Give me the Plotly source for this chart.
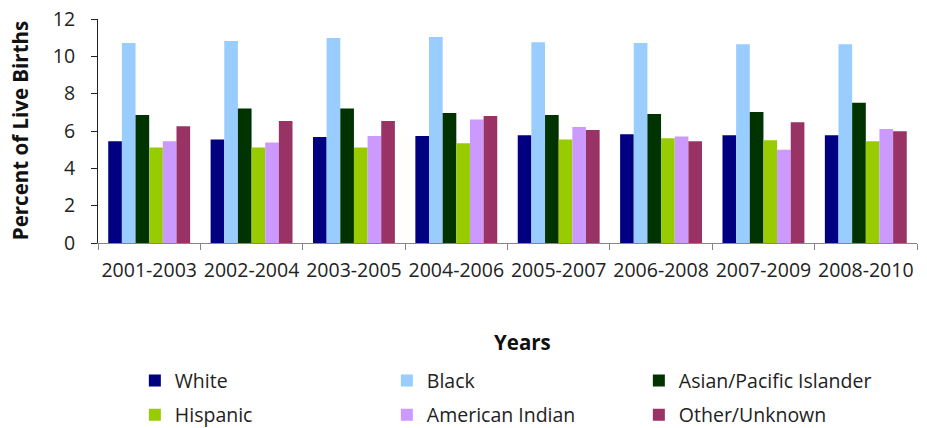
import plotly.graph_objects as go

years = ["2001-2003", "2002-2004", "2003-2005", "2004-2006",
         "2005-2007", "2006-2008", "2007-2009", "2008-2010"]

white = [5.45, 5.55, 5.68, 5.73, 5.77, 5.82, 5.77, 5.77]
black = [10.71, 10.82, 10.98, 11.03, 10.76, 10.71, 10.65, 10.65]
asian = [6.86, 7.20, 7.20, 6.97, 6.86, 6.91, 7.02, 7.52]
hispanic = [5.12, 5.12, 5.12, 5.34, 5.55, 5.61, 5.50, 5.45]
amindian = [5.45, 5.39, 5.73, 6.61, 6.21, 5.71, 4.99, 6.11]
other = [6.25, 6.54, 6.54, 6.80, 6.05, 5.45, 6.47, 5.98]

series = [
    ("White", white, "#000080", "legend"),
    ("Black", black, "#99CCFF", "legend"),
    ("Asian/Pacific Islander", asian, "#003300", "legend"),
    ("Hispanic", hispanic, "#99CC00", "legend2"),
    ("American Indian", amindian, "#CC99FF", "legend2"),
    ("Other/Unknown", other, "#993366", "legend2"),
]

FONT = "Open Sans"

fig = go.Figure()
for name, vals, color, lg in series:
    fig.add_trace(go.Bar(
        x=years, y=vals, name=name, legend=lg,
        marker=dict(color=color, line=dict(width=0)),
    ))

legend_common = dict(
    orientation="h", xanchor="left", yanchor="middle",
    font=dict(family=FONT, size=19.5, color="#222"),
    entrywidth=207, entrywidthmode="pixels",
    bgcolor="rgba(0,0,0,0)", itemclick=False, itemdoubleclick=False,
)

fig.update_layout(
    width=927, height=428,
    margin=dict(l=98, r=10, t=19, b=185, autoexpand=False),
    paper_bgcolor="white", plot_bgcolor="white",
    barmode="group", bargap=0.2, bargroupgap=0,
    font=dict(family=FONT, size=19, color="#222"),
    showlegend=True,
    legend=dict(x=0.045, y=-0.615, **legend_common),
    legend2=dict(x=0.045, y=-0.768, **legend_common),
    xaxis=dict(
        showline=True, linecolor="#868686", linewidth=1,
        ticks="outside", ticklen=6, tickcolor="#868686",
        tickson="boundaries", showgrid=False, tickangle=0, automargin=False,
        tickfont=dict(family=FONT, size=19.5, color="#222"),
        ticklabelstandoff=10,
    ),
    yaxis=dict(
        range=[0, 12], dtick=2, showline=True, linecolor="#222", linewidth=1,
        ticks="outside", ticklen=6, tickcolor="#222", showgrid=False,
        zeroline=False, automargin=False,
        tickfont=dict(family=FONT, size=19.5, color="#222"),
        ticklabelstandoff=12,
    ),
    annotations=[
        dict(text="<b>Percent of Live Births</b>", xref="paper", yref="paper",
             x=-0.095, y=0.5, xanchor="center", yanchor="middle", textangle=-90,
             showarrow=False, font=dict(family=FONT, size=20.5, color="#111")),
        dict(text="<b>Years</b>", xref="paper", yref="paper",
             x=0.518, y=-0.44, xanchor="center", yanchor="middle",
             showarrow=False, font=dict(family=FONT, size=20.5, color="#111")),
    ],
)

fig.write_html("out.html", config={"displayModeBar": False},
               post_script="document.body.style.margin='0';")
